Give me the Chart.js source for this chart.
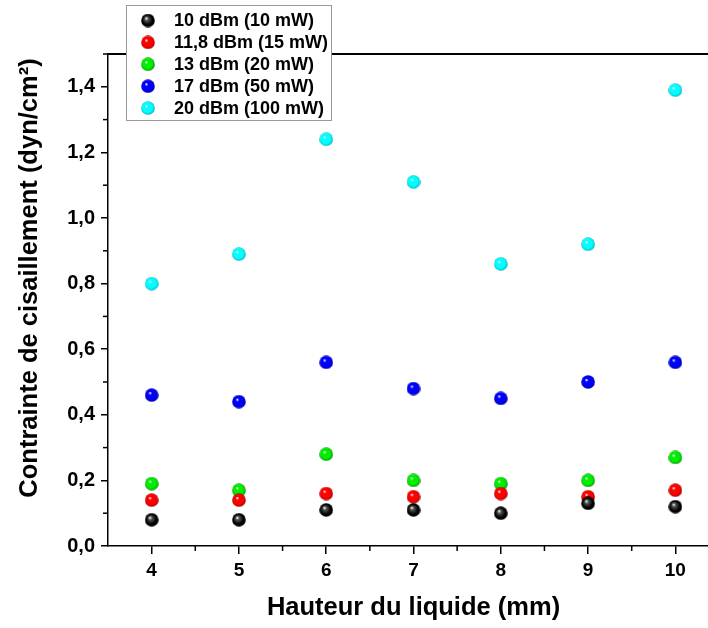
<!DOCTYPE html>
<html>
<head>
<meta charset="utf-8">
<script src="https://cdn.jsdelivr.net/npm/chart.js@4"></script>
<style>
  html, body { margin: 0; padding: 0; background: #fff; overflow: hidden; }
  #wrap { position: relative; width: 730px; height: 628px; }
</style>
</head>
<body>
<div id="wrap"><canvas id="chart"></canvas></div>
<script>
// hauteur du liquide (mm)
const heights = [4, 5, 6, 7, 8, 9, 10];

// contrainte de cisaillement (dyn/cm2) par puissance
const p10mW = [0.08, 0.08, 0.11, 0.11, 0.10, 0.13, 0.12];
const p15mW = [0.14, 0.14, 0.16, 0.15, 0.16, 0.15, 0.17];
const p20mW = [0.19, 0.17, 0.28, 0.20, 0.19, 0.20, 0.27];
const p50mW = [0.46, 0.44, 0.56, 0.48, 0.45, 0.50, 0.56];
const p100mW = [0.80, 0.89, 1.24, 1.11, 0.86, 0.92, 1.39];

const seriesLabels = ['10 dBm (10 mW)', '11,8 dBm (15 mW)', '13 dBm (20 mW)', '17 dBm (50 mW)', '20 dBm (100 mW)'];
const seriesColors = ['#000000', '#ff0000', '#00ee00', '#0000ff', '#00ffff'];
const seriesEdges = ['#000000', '#a00000', '#009000', '#0000a0', '#00b0c0'];

const xTicks = [4, 5, 6, 7, 8, 9, 10];
const yTicks = [0, 0.2, 0.4, 0.6, 0.8, 1.0, 1.2, 1.4];

const FONT = "'Liberation Sans', Arial, sans-serif";

// little shaded balls like the Origin markers
function makeBall(color, edge, isBlack) {
    const c = document.createElement('canvas');
    c.width = 14;
    c.height = 14;
    const g = c.getContext('2d');
    const grad = g.createRadialGradient(5.2, 4.8, 0.3, 7, 7, 7);
    grad.addColorStop(0, '#ffffff');
    grad.addColorStop(0.22, isBlack ? '#555555' : color);
    grad.addColorStop(0.7, color);
    grad.addColorStop(1, edge);
    g.fillStyle = grad;
    g.beginPath();
    g.arc(7, 7, 6.8, 0, Math.PI * 2);
    g.fill();
    return c;
}

const balls = seriesColors.map((c, i) => makeBall(c, seriesEdges[i], i === 0));
const allSeries = [p10mW, p15mW, p20mW, p50mW, p100mW];

const datasets = allSeries.map((vals, i) => ({
    label: seriesLabels[i],
    data: heights.map((h, j) => ({ x: h, y: vals[j] })),
    pointStyle: balls[i],
    pointRadius: 6.5,
    pointHoverRadius: 6.5,
    backgroundColor: seriesColors[i],
    borderColor: seriesColors[i],
    showLine: false
}));

// minor ticks, top frame line, legend box, y title
const decorPlugin = {
    id: 'decor',
    afterDraw(chart) {
        const ctx = chart.ctx;
        const area = chart.chartArea;
        const xs = chart.scales.x;
        const ys = chart.scales.y;
        ctx.save();
        ctx.strokeStyle = '#000';
        ctx.lineWidth = 1.5;

        // minor ticks on x
        for (let v = 3.5; v <= 10.5; v += 1) {
            const px = xs.getPixelForValue(v);
            if (px < area.left + 1) continue;
            ctx.beginPath();
            ctx.moveTo(px, area.bottom);
            ctx.lineTo(px, area.bottom + 5);
            ctx.stroke();
        }
        // minor ticks on y
        for (let v = 0.1; v < 1.5; v += 0.2) {
            const py = ys.getPixelForValue(v);
            ctx.beginPath();
            ctx.moveTo(area.left, py);
            ctx.lineTo(area.left - 5, py);
            ctx.stroke();
        }
        // top frame line
        ctx.lineWidth = 2;
        ctx.beginPath();
        ctx.moveTo(area.left, area.top);
        ctx.lineTo(area.right, area.top);
        ctx.stroke();

        // legend box
        const bx = 126, by = 5, bw = 205, bh = 115;
        ctx.fillStyle = '#fff';
        ctx.fillRect(bx, by, bw, bh);
        ctx.strokeStyle = '#999';
        ctx.lineWidth = 1;
        ctx.strokeRect(bx + 0.5, by + 0.5, bw, bh);
        ctx.fillStyle = '#000';
        ctx.font = 'bold 18px ' + FONT;
        ctx.textBaseline = 'middle';
        ctx.textAlign = 'left';
        chart.data.datasets.forEach((ds, i) => {
            const ry = 20.5 + i * 21.9;
            ctx.drawImage(ds.pointStyle, 148 - 7, ry - 7);
            ctx.fillText(ds.label, 174, ry + 1);
        });

        // y axis title
        ctx.translate(30, 278);
        ctx.rotate(-Math.PI / 2);
        ctx.textAlign = 'center';
        ctx.font = 'bold 25.5px ' + FONT;
        ctx.fillText('Contrainte de cisaillement (dyn/cm²)', 0, 0);
        ctx.restore();
    }
};

new Chart(document.getElementById('chart'), {
    type: 'scatter',
    data: { datasets: datasets },
    options: {
        responsive: true,
        maintainAspectRatio: false,
        animation: false,
        layout: { padding: { top: 54, right: 11, left: 0, bottom: 0 } },
        plugins: {
            legend: { display: false },
            tooltip: { enabled: false }
        },
        scales: {
            x: {
                type: 'linear',
                min: 3.5,
                max: 10.5,
                afterBuildTicks: axis => { axis.ticks = xTicks.map(v => ({ value: v })); },
                afterFit: axis => { axis.height = 82; },
                grid: { drawOnChartArea: false, drawTicks: true, tickLength: 8, color: '#000', lineWidth: 1.5 },
                border: { display: true, color: '#000', width: 1.5 },
                ticks: {
                    padding: 5,
                    color: '#000',
                    font: { family: FONT, size: 19, weight: 'bold' },
                    maxRotation: 0
                },
                title: {
                    display: true,
                    text: 'Hauteur du liquide (mm)',
                    color: '#000',
                    font: { family: FONT, size: 25.5, weight: 'bold' },
                    padding: { top: 0, bottom: 5 }
                }
            },
            y: {
                type: 'linear',
                min: 0,
                max: 1.5,
                afterBuildTicks: axis => { axis.ticks = yTicks.map(v => ({ value: v })); },
                afterFit: axis => { axis.width = 108; },
                grid: { drawOnChartArea: false, drawTicks: true, tickLength: 7, color: '#000', lineWidth: 1.5 },
                border: { display: true, color: '#000', width: 1.5 },
                ticks: {
                    padding: 6,
                    color: '#000',
                    font: { family: FONT, size: 20, weight: 'bold' },
                    callback: v => v.toFixed(1).replace('.', ',')
                }
            }
        }
    },
    plugins: [decorPlugin]
});
</script>
</body>
</html>
